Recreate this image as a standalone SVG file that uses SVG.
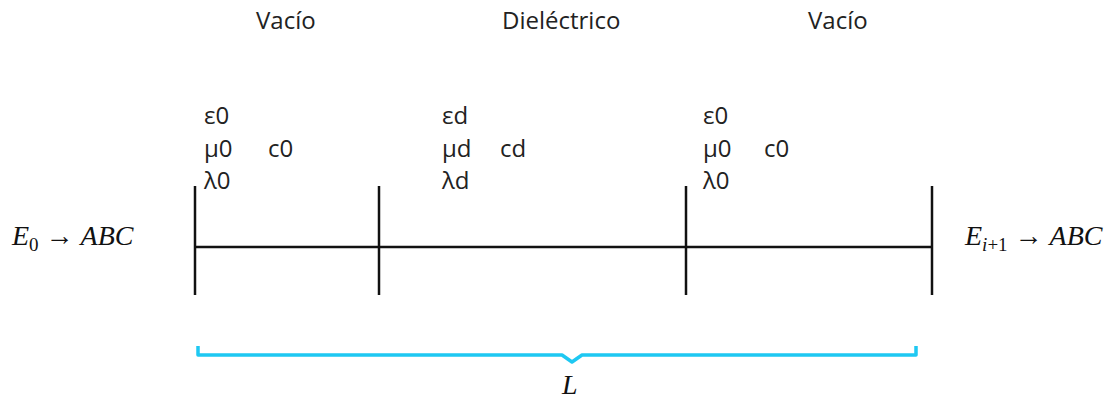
<svg xmlns="http://www.w3.org/2000/svg" width="1110" height="401" viewBox="0 0 1110 401">
<style>
.t{font-family:"Open Sans","Liberation Sans",sans-serif;font-size:24px;fill:#222}
.g{font-family:"Open Sans","Liberation Sans",sans-serif;font-size:24px;fill:#222}
.m{font-family:"Liberation Serif","DejaVu Serif",serif;font-size:28px;font-style:italic;fill:#111}
.mu{font-family:"Liberation Serif","DejaVu Serif",serif;font-size:28px;fill:#111}
.s{font-family:"Liberation Serif","DejaVu Serif",serif;font-size:19px;fill:#111}
.ln{stroke:#111;stroke-width:2.5;fill:none}
</style>
<rect width="1110" height="401" fill="#fff"/>
<g id="labels">
<text class="t" x="256" y="29">Vacío</text>
<text class="t" x="502" y="29">Dieléctrico</text>
<text class="t" x="808" y="29">Vacío</text>
</g>
<g id="region1">
<text class="g" x="204" y="124">ε0</text>
<text class="g" x="204" y="157">μ0</text>
<text class="g" x="268" y="157">c0</text>
<text class="g" x="204" y="189">λ0</text>
</g>
<g id="region2">
<text class="g" x="442" y="124">εd</text>
<text class="g" x="442" y="157">μd</text>
<text class="g" x="500" y="157">cd</text>
<text class="g" x="442" y="189">λd</text>
</g>
<g id="region3">
<text class="g" x="703" y="124">ε0</text>
<text class="g" x="703" y="157">μ0</text>
<text class="g" x="764" y="157">c0</text>
<text class="g" x="703" y="189">λ0</text>
</g>
<g id="input">
<text x="12" y="245"><tspan class="m">E</tspan><tspan class="s" dy="6">0</tspan><tspan class="mu" dy="-6"> → </tspan><tspan class="m">ABC</tspan></text>
</g>
<g id="output">
<text x="965" y="245"><tspan class="m">E</tspan><tspan class="s" dy="6" font-style="italic">i</tspan><tspan class="s" dy="0">+1</tspan><tspan class="mu" dy="-6"> → </tspan><tspan class="m">ABC</tspan></text>
</g>
<g id="connectors">
<line class="ln" x1="195" y1="247" x2="932" y2="247"/>
<line class="ln" x1="195" y1="186" x2="195" y2="295"/>
<line class="ln" x1="379" y1="186" x2="379" y2="295"/>
<line class="ln" x1="686" y1="186" x2="686" y2="295"/>
<line class="ln" x1="932" y1="186" x2="932" y2="295"/>
</g>
<g id="brace">
<path d="M198 346 V355 H562 L572 362 L582 355 H916 V346" fill="none" stroke="#1EC8F2" stroke-width="3.5" stroke-linejoin="round"/>
<text class="m" x="562" y="394">L</text>
</g>
</svg>
